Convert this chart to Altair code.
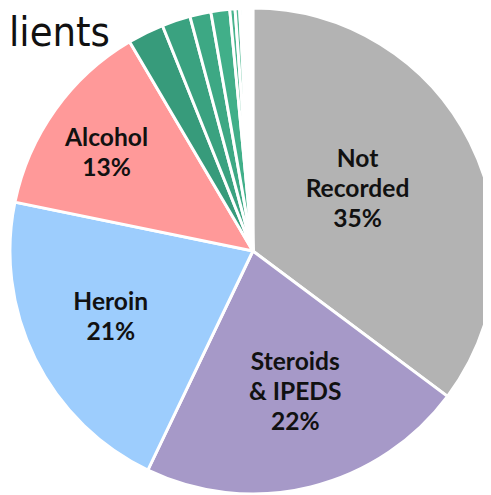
import altair as alt
import pandas as pd

# ---- data ----
categories = ["Not Recorded", "Steroids & IPEDS", "Heroin", "Alcohol",
              "Other A", "Other B", "Other C", "Other D", "Other E", "Other F",
              "Other G", "Other H", "Other I", "Other J", "Other K", "Other L", "Other M"]
shares = [35.2, 21.9, 21.1, 13.3,
          2.4, 1.9, 1.4, 1.25, 0.35, 0.3,
          0.2, 0.15, 0.12, 0.1, 0.1, 0.1, 0.1]
labels = ["Not\nRecorded\n35%", "Steroids\n& IPEDS\n22%", "Heroin\n21%", "Alcohol\n13%",
          "", "", "", "", "", "", "", "", "", "", "", "", ""]
colors = ["#b3b3b3", "#a699c8", "#9dcdfd", "#ff9999",
          "#379b7b", "#3aa280", "#3da884", "#41af89", "#48b48d", "#52b994",
          "#5cbd9a", "#66c2a0", "#70c6a6", "#7acaab", "#84ceb0", "#8ed2b5", "#98d6ba"]
title_text = "lients"

df = pd.DataFrame({"idx": list(range(len(categories))), "category": categories,
                   "share": shares, "label": labels})

CX, CY, R = 249, 243, 247
LH = 30.5

arcs = alt.Chart(df).mark_arc(outerRadius=R, stroke="white", strokeWidth=3).encode(
    x=alt.value(CX), y=alt.value(CY),
    theta=alt.Theta("share:Q", stack=True),
    order=alt.Order("idx:Q"),
    color=alt.Color("category:N", scale=alt.Scale(domain=categories, range=colors), legend=None),
)

label_style = {
    0: dict(radius=119, dx=0, dy=-10 - LH),
    1: dict(radius=147, dx=8, dy=1 - LH),
    2: dict(radius=158, dx=-3, dy=-3 - LH / 2),
    3: dict(radius=178, dx=-4, dy=4 - LH / 2),
}

layers = [arcs]
for i, st in label_style.items():
    layers.append(
        alt.Chart(df).transform_calculate(t=f"datum.idx == {i} ? datum.label : ''")
        .mark_text(radius=st["radius"], dx=st["dx"], dy=st["dy"], font="Lato", fontWeight="bold",
                   fontSize=25, lineHeight=LH, lineBreak="\n", color="#111111",
                   align="center", baseline="middle")
        .encode(x=alt.value(CX), y=alt.value(CY),
                theta=alt.Theta("share:Q", stack=True),
                order=alt.Order("idx:Q"),
                text=alt.Text("t:N"))
    )

title = alt.Chart(pd.DataFrame({"t": [title_text]})).mark_text(
    font="DejaVu Sans Condensed", fontSize=42, color="#111111",
    align="left", baseline="alphabetic").encode(
    x=alt.value(1), y=alt.value(35), text="t:N")
layers.append(title)

chart = alt.layer(*layers).properties(
    width=483, height=487, padding=0, autosize=alt.AutoSizeParams(type="none")
).configure_view(stroke=None)

chart.save("out.html", embed_options={"renderer": "svg", "actions": False})
